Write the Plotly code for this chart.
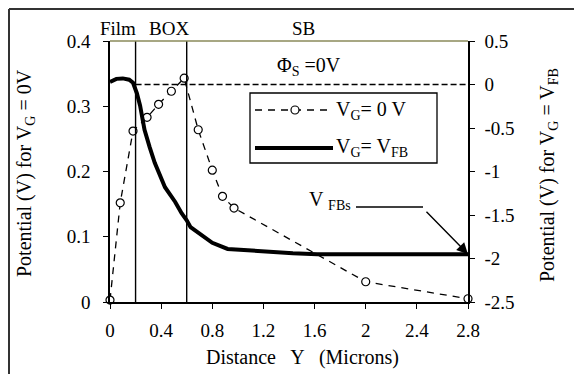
import plotly.graph_objects as go

# Potential profile for V_G = 0 V (left axis), sampled points with markers
x_vg0 = [0.0, 0.08, 0.18, 0.29, 0.38, 0.48, 0.58, 0.69, 0.80, 0.88, 0.97, 2.0, 2.8]
phi_vg0 = [0.003, 0.152, 0.262, 0.283, 0.303, 0.323, 0.343, 0.264, 0.202, 0.162, 0.144, 0.031, 0.005]

# Potential profile for V_G = V_FB (right axis)
x_vfb = [0.0, 0.05, 0.10, 0.15, 0.18, 0.21, 0.235, 0.27, 0.31, 0.35, 0.43, 0.51, 0.56,
         0.60, 0.63, 0.70, 0.80, 0.92, 1.17, 1.43, 1.62, 2.8]
phi_vfb = [0.03, 0.065, 0.07, 0.055, 0.02, -0.10, -0.24, -0.52, -0.72, -0.90, -1.18, -1.35, -1.48,
           -1.56, -1.64, -1.72, -1.82, -1.89, -1.92, -1.94, -1.95, -1.95]

# Region boundaries (microns): film / buried oxide / substrate
film_box_edges = [0.2, 0.6]
phi_s_level = 0.0

x_ticks = [0, 0.4, 0.8, 1.2, 1.6, 2, 2.4, 2.8]
left_ticks = [0, 0.1, 0.2, 0.3, 0.4]
right_ticks = [-2.5, -2, -1.5, -1, -0.5, 0, 0.5]

FONT = "Liberation Serif, Times New Roman, serif"
W, H = 574, 374
L, R, T, B = 110, 106, 41, 72
PW, PH = W - L - R, H - T - B


def px(xp):
    return (xp - L) / PW


def py(yp):
    return (H - B - yp) / PH


fig = go.Figure()

fig.add_trace(go.Scatter(
    x=x_vg0, y=phi_vg0, mode="lines+markers", yaxis="y",
    line=dict(color="black", width=1.3, dash="7px,6px"),
    marker=dict(symbol="circle", size=8, color="white", line=dict(color="black", width=1.2)),
    showlegend=False, cliponaxis=False,
))
fig.add_trace(go.Scatter(
    x=x_vfb, y=phi_vfb, mode="lines", yaxis="y2",
    line=dict(color="black", width=4),
    showlegend=False, cliponaxis=False,
))

shapes = []
# boundary lines
for xb in film_box_edges:
    shapes.append(dict(type="line", xref="x", yref="paper", x0=xb, x1=xb, y0=0, y1=1,
                       line=dict(color="black", width=1.4)))
# surface potential reference level
shapes.append(dict(type="line", xref="x", yref="y2", x0=film_box_edges[0], x1=2.8,
                   y0=phi_s_level, y1=phi_s_level,
                   line=dict(color="black", width=1.3, dash="6px,3px")))
# top frame line
shapes.append(dict(type="line", xref="paper", yref="paper", x0=0, x1=1, y0=1, y1=1,
                   line=dict(color="#8a8a5a", width=1.5)))
# outer border
shapes.append(dict(type="line", xref="paper", yref="paper", x0=px(9), x1=px(9), y0=py(9), y1=py(380),
                   line=dict(color="#333333", width=2)))
shapes.append(dict(type="line", xref="paper", yref="paper", x0=px(9), x1=px(580), y0=py(9), y1=py(9),
                   line=dict(color="#333333", width=2)))
# legend box
shapes.append(dict(type="rect", xref="paper", yref="paper", x0=px(250), x1=px(437), y0=py(163), y1=py(93),
                   line=dict(color="black", width=1.3), fillcolor="white"))
shapes.append(dict(type="line", xref="paper", yref="paper", x0=px(255), x1=px(333), y0=py(110), y1=py(110),
                   line=dict(color="black", width=1.3, dash="7px,6px")))
shapes.append(dict(type="circle", xref="paper", yref="paper", x0=px(291), x1=px(299), y0=py(114), y1=py(106),
                   line=dict(color="black", width=1.2), fillcolor="white"))
shapes.append(dict(type="line", xref="paper", yref="paper", x0=px(255), x1=px(333), y0=py(148), y1=py(148),
                   line=dict(color="black", width=4)))
# V_FBs leader line
shapes.append(dict(type="line", xref="paper", yref="paper", x0=px(356), x1=px(423), y0=py(207), y1=py(207),
                   line=dict(color="black", width=1.4)))

ann = []


def text(x, y, s, size=20, xanchor="center", angle=0):
    ann.append(dict(x=px(x), y=py(y), xref="paper", yref="paper", text=s, showarrow=False,
                    xanchor=xanchor, yanchor="middle", textangle=angle,
                    font=dict(family=FONT, size=size, color="black")))


text(118, 28, "Film", size=19)
text(169, 28, "BOX", size=19)
text(303, 28, "SB", size=19)
text(275, 66, "Φ<sub>S</sub> =0V", xanchor="left")
text(334, 110, "V<sub>G</sub>= 0 V", xanchor="left")
text(334, 147, "V<sub>G</sub>= V<sub>FB</sub>", xanchor="left")
text(307, 200, "V <sub>FBs</sub>", xanchor="left")
text(302, 357, "Distance   Y   (Microns)")
text(25, 173, "Potential (V) for V<sub>G</sub> = 0V", angle=-90)
text(548, 175, "Potential (V) for V<sub>G</sub> = V<sub>FB</sub>", angle=-90)

# arrow pointing at the flat-band end of the V_G = V_FB curve
ann.append(dict(x=x_vfb[-1], y=phi_vfb[-1], xref="x", yref="y2", text="", showarrow=True,
                axref="pixel", ayref="pixel", ax=-43, ay=-44,
                arrowhead=2, arrowsize=1.6, arrowwidth=1.4, arrowcolor="black"))

tickfont = dict(family=FONT, size=19, color="black")

fig.update_layout(
    width=W, height=H,
    margin=dict(l=L, r=R, t=T, b=B),
    paper_bgcolor="white", plot_bgcolor="white",
    shapes=shapes, annotations=ann,
    xaxis=dict(range=[0, 2.8], tickvals=x_ticks, ticktext=[f"{v:g}" for v in x_ticks],
               ticks="outside", ticklen=5, tickwidth=1.3, tickcolor="black",
               showline=True, linecolor="black", linewidth=1.5, showgrid=False, zeroline=False,
               tickfont=tickfont, ticklabelstandoff=5),
    yaxis=dict(range=[0, 0.4], tickvals=left_ticks, ticktext=[f"{v:g}" for v in left_ticks],
               ticks="outside", ticklen=5, tickwidth=1.3, tickcolor="black",
               showline=True, linecolor="black", linewidth=1.5, showgrid=False, zeroline=False,
               tickfont=tickfont, ticklabelstandoff=9),
    yaxis2=dict(range=[-2.5, 0.5], tickvals=right_ticks, ticktext=[f"{v:g}" for v in right_ticks],
                overlaying="y", side="right", anchor="x",
                ticks="outside", ticklen=5, tickwidth=1.3, tickcolor="black",
                showline=True, linecolor="black", linewidth=1.5, showgrid=False, zeroline=False,
                tickfont=tickfont, ticklabelstandoff=6),
    yaxis3=dict(range=[-2.5, 0.5], tickvals=right_ticks, overlaying="y", side="right", anchor="x",
                ticks="inside", ticklen=5, tickwidth=1.3, tickcolor="black",
                showticklabels=False, showline=False, showgrid=False, zeroline=False),
    showlegend=False,
)

fig.write_html("out.html")
